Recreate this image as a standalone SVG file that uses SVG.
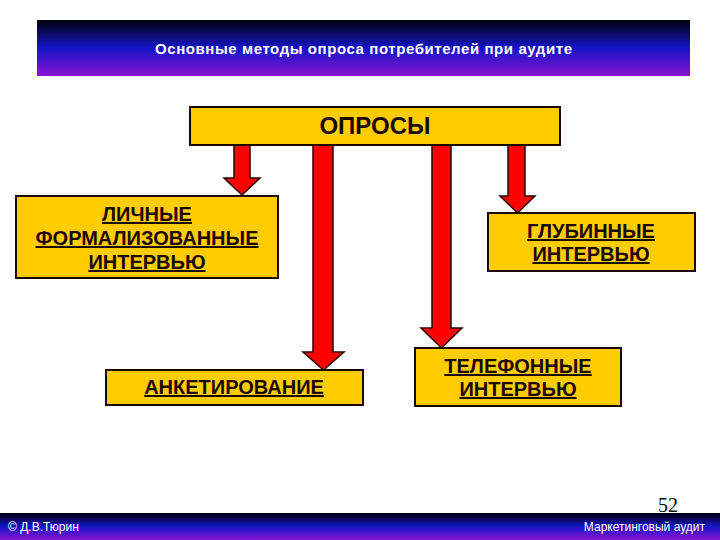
<svg xmlns="http://www.w3.org/2000/svg" width="720" height="540" viewBox="0 0 720 540">
  <defs>
    <linearGradient id="bar" x1="0" y1="0" x2="0" y2="1">
      <stop offset="0" stop-color="#000008"/>
      <stop offset="0.5" stop-color="#1414c8"/>
      <stop offset="1" stop-color="#8a14d2"/>
    </linearGradient>
    <style>
      .box { fill: #FFCC00; stroke: #1a0800; stroke-width: 2; }
      .lbl { font-family: "Liberation Sans", Arial, sans-serif; font-weight: bold; fill: #1a0800; text-anchor: middle; font-size: 20px; text-decoration: underline; }
      .arrow { fill: #FF0000; stroke: #2a0000; stroke-width: 1.5; stroke-linejoin: miter; }
      .wt { font-family: "Liberation Sans", Arial, sans-serif; fill: #ffffff; }
    </style>
  </defs>
  <rect width="720" height="540" fill="#ffffff"/>

  <g id="header">
    <rect x="37" y="20" width="653" height="56" fill="url(#bar)"/>
    <text class="wt" x="155" y="54" font-size="15" font-weight="bold" textLength="417" lengthAdjust="spacing">Основные методы опроса потребителей при аудите</text>
  </g>

  <g id="connectors">
    <polygon class="arrow" points="234,145 250,145 250,178 260,178 242,195 224,178 234,178"/>
    <polygon class="arrow" points="313,145 333,145 333,352 344,352 323.5,370 303,352 313,352"/>
    <polygon class="arrow" points="432,145 451,145 451,328 462,328 441.5,348 421,328 432,328"/>
    <polygon class="arrow" points="508,145 525,145 525,196 535,196 517.5,213 500,196 508,196"/>
  </g>

  <g id="oprosy">
    <rect class="box" x="190" y="107" width="370" height="38"/>
    <text x="375" y="134" font-family="Liberation Sans, Arial, sans-serif" font-weight="bold" font-size="24" fill="#1a0800" text-anchor="middle">ОПРОСЫ</text>
  </g>

  <g id="lichnye">
    <rect class="box" x="16" y="196" width="262" height="82"/>
    <text class="lbl" x="147" y="221">ЛИЧНЫЕ</text>
    <text class="lbl" x="147" y="245">ФОРМАЛИЗОВАННЫЕ</text>
    <text class="lbl" x="147" y="269">ИНТЕРВЬЮ</text>
  </g>

  <g id="glubinnye">
    <rect class="box" x="488" y="213" width="207" height="58"/>
    <text class="lbl" x="591" y="238">ГЛУБИННЫЕ</text>
    <text class="lbl" x="591" y="261">ИНТЕРВЬЮ</text>
  </g>

  <g id="anketirovanie">
    <rect class="box" x="106" y="370" width="257" height="35"/>
    <text class="lbl" x="234" y="394">АНКЕТИРОВАНИЕ</text>
  </g>

  <g id="telefonnye">
    <rect class="box" x="415" y="348" width="206" height="58"/>
    <text class="lbl" x="518" y="373">ТЕЛЕФОННЫЕ</text>
    <text class="lbl" x="518" y="396">ИНТЕРВЬЮ</text>
  </g>

  <g id="footer">
    <rect x="0" y="513" width="720" height="27" fill="url(#bar)"/>
    <text x="668" y="512" font-family="Liberation Serif, 'Times New Roman', serif" font-size="20" fill="#000000" text-anchor="middle">52</text>
    <text class="wt" x="8" y="531" font-size="12">© Д.В.Тюрин</text>
    <text class="wt" x="705" y="531" font-size="12" text-anchor="end">Маркетинговый аудит</text>
  </g>
</svg>
